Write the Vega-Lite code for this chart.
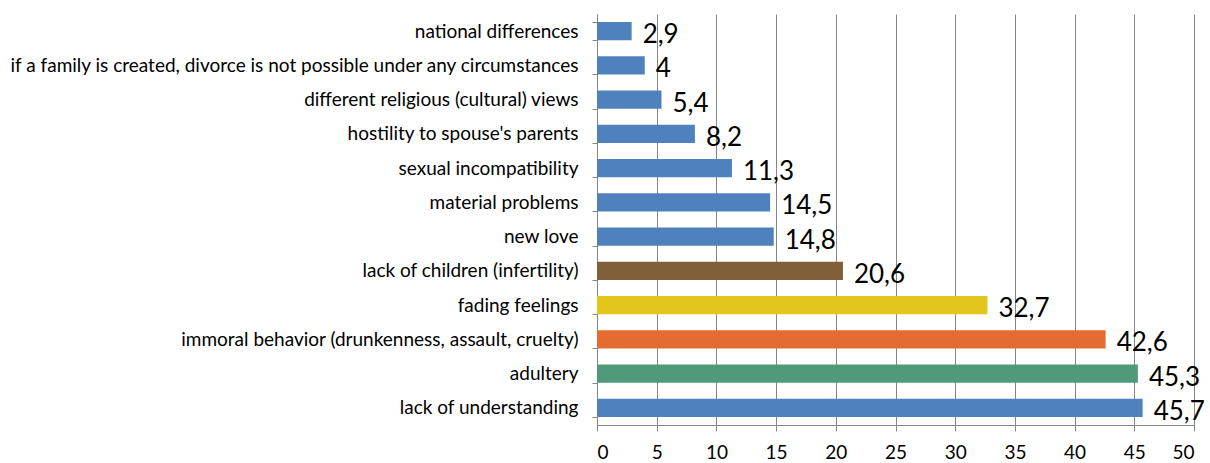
{
  "$schema": "https://vega.github.io/schema/vega-lite/v6.json",
  "width": 597,
  "height": 411,
  "autosize": {"type": "none"},
  "padding": {"left": 597, "top": 14, "right": 16, "bottom": 38},
  "background": "white",
  "config": {"view": {"stroke": null}, "font": "Lato"},
  "data": {"values": [
    {"reason": "national differences", "value": 2.9, "label": "2,9"},
    {"reason": "if a family is created, divorce is not possible under any circumstances", "value": 4, "label": "4"},
    {"reason": "different religious (cultural) views", "value": 5.4, "label": "5,4"},
    {"reason": "hostility to spouse's parents", "value": 8.2, "label": "8,2"},
    {"reason": "sexual incompatibility", "value": 11.3, "label": "11,3"},
    {"reason": "material problems", "value": 14.5, "label": "14,5"},
    {"reason": "new love", "value": 14.8, "label": "14,8"},
    {"reason": "lack of children (infertility)", "value": 20.6, "label": "20,6"},
    {"reason": "fading feelings", "value": 32.7, "label": "32,7"},
    {"reason": "immoral behavior (drunkenness, assault, cruelty)", "value": 42.6, "label": "42,6"},
    {"reason": "adultery", "value": 45.3, "label": "45,3"},
    {"reason": "lack of understanding", "value": 45.7, "label": "45,7"}
  ]},
  "encoding": {
    "y": {
      "field": "reason", "type": "nominal", "sort": null,
      "scale": {"paddingInner": 0.47, "paddingOuter": 0.235},
      "axis": {
        "title": null, "labelFontSize": 19, "labelColor": "#000000", "labelPadding": 14,
        "labelLimit": 600, "tickBand": "extent", "tickColor": "#868686", "tickSize": 5,
        "domainColor": "#868686", "labelFont": "Lato"
      }
    }
  },
  "layer": [
    {
      "mark": {"type": "bar"},
      "encoding": {
        "x": {
          "field": "value", "type": "quantitative",
          "scale": {"domain": [0, 50], "nice": false},
          "axis": {
            "title": null, "values": [0,5,10,15,20,25,30,35,40,45,50],
            "labelFontSize": 19, "labelColor": "#000000", "labelPadding": 12,
            "gridColor": "#868686", "grid": true, "tickColor": "#868686", "tickSize": 6,
            "domainColor": "#868686", "labelFont": "Lato"
          }
        },
        "color": {
          "field": "reason", "type": "nominal", "legend": null,
          "scale": {
            "domain": ["national differences", "if a family is created, divorce is not possible under any circumstances", "different religious (cultural) views", "hostility to spouse's parents", "sexual incompatibility", "material problems", "new love", "lack of children (infertility)", "fading feelings", "immoral behavior (drunkenness, assault, cruelty)", "adultery", "lack of understanding"],
            "range": ["#4F81BD", "#4F81BD", "#4F81BD", "#4F81BD", "#4F81BD", "#4F81BD", "#4F81BD", "#7F6039", "#E3C61C", "#E46C31", "#509A7A", "#4F81BD"]
          }
        }
      }
    },
    {
      "mark": {"type": "text", "align": "left", "baseline": "middle", "dx": 11, "dy": 4, "fontSize": 26, "color": "#000000", "font": "Lato"},
      "encoding": {
        "x": {"field": "value", "type": "quantitative"},
        "text": {"field": "label"}
      }
    }
  ]
}
